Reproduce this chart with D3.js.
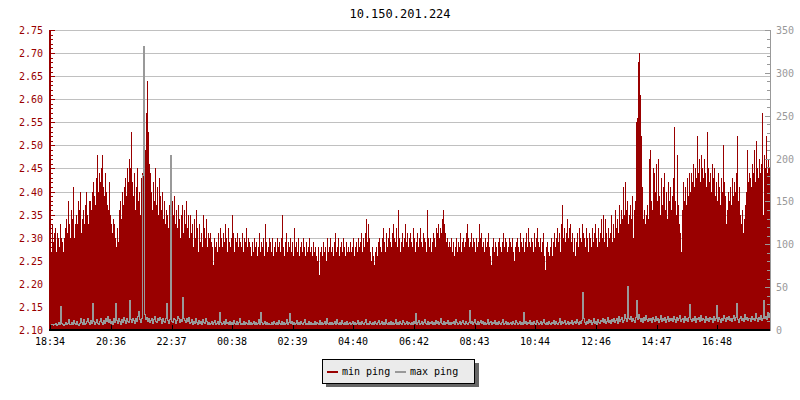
<!DOCTYPE html>
<html><head><meta charset="utf-8">
<script src="https://cdn.jsdelivr.net/npm/d3@7"></script>
<style>
html,body{margin:0;padding:0;background:#fff;}
svg{display:block;}
text{font-family:"DejaVu Sans Mono",monospace;}
</style></head>
<body><svg id="c" width="800" height="400"></svg>
<script>
const title = "10.150.201.224";
const startTime = "18:34";
const stepMinutes = 2;
const xTickLabels = ["18:34","20:36","22:37","00:38","02:39","04:40","06:42","08:43","10:44","12:46","14:47","16:48"];
const leftTicks = [2.10,2.15,2.20,2.25,2.30,2.35,2.40,2.45,2.50,2.55,2.60,2.65,2.70,2.75];
const rightTicks = [0,50,100,150,200,250,300,350];
const seriesNames = ["min ping","max ping"];

const minPing = [
2.29,2.27,2.33,2.29,2.31,2.32,2.27,2.31,2.30,2.28,2.33,2.30,2.29,2.27,2.30,2.32,2.34,2.31,2.38,2.33,
2.30,2.36,2.34,2.41,2.30,2.33,2.35,2.33,2.38,2.36,2.40,2.31,2.34,2.36,2.33,2.37,2.40,2.35,2.33,2.38,
2.38,2.36,2.40,2.42,2.39,2.37,2.43,2.48,2.40,2.44,2.42,2.45,2.48,2.41,2.39,2.44,2.40,2.37,2.36,2.42,
2.35,2.33,2.31,2.34,2.33,2.30,2.28,2.32,2.29,2.36,2.38,2.34,2.40,2.37,2.41,2.43,2.39,2.45,2.42,2.47,
2.45,2.53,2.42,2.39,2.44,2.36,2.41,2.45,2.38,2.40,2.35,2.43,2.44,2.47,2.45,2.49,2.57,2.64,2.53,2.46,
2.44,2.40,2.36,2.42,2.38,2.45,2.37,2.41,2.35,2.43,2.39,2.36,2.40,2.34,2.38,2.33,2.36,2.35,2.32,2.37,
2.34,2.31,2.38,2.35,2.39,2.33,2.36,2.32,2.37,2.34,2.30,2.35,2.37,2.31,2.36,2.33,2.38,2.32,2.35,2.30,
2.35,2.31,2.33,2.28,2.34,2.30,2.36,2.32,2.27,2.33,2.29,2.31,2.28,2.35,2.32,2.30,2.34,2.28,2.31,2.30,
2.31,2.29,2.28,2.24,2.30,2.28,2.29,2.27,2.31,2.28,2.32,2.30,2.28,2.31,2.29,2.33,2.30,2.27,2.32,2.29,
2.28,2.30,2.35,2.31,2.27,2.30,2.29,2.31,2.28,2.30,2.29,2.28,2.31,2.27,2.30,2.29,2.32,2.28,2.30,2.29,
2.28,2.26,2.29,2.27,2.30,2.28,2.29,2.26,2.28,2.31,2.27,2.29,2.28,2.30,2.26,2.33,2.29,2.27,2.28,2.30,
2.29,2.27,2.30,2.26,2.28,2.29,2.27,2.30,2.28,2.29,2.27,2.30,2.35,2.28,2.26,2.29,2.31,2.27,2.29,2.28,
2.30,2.27,2.29,2.26,2.32,2.28,2.29,2.27,2.30,2.26,2.28,2.29,2.27,2.30,2.28,2.26,2.29,2.27,2.28,2.30,
2.27,2.28,2.26,2.29,2.27,2.28,2.26,2.25,2.28,2.22,2.27,2.28,2.26,2.29,2.27,2.28,2.25,2.30,2.27,2.28,
2.30,2.27,2.28,2.26,2.29,2.31,2.27,2.28,2.30,2.26,2.28,2.29,2.27,2.30,2.28,2.26,2.29,2.27,2.28,2.27,
2.29,2.27,2.28,2.30,2.26,2.28,2.29,2.27,2.30,2.28,2.29,2.31,2.27,2.30,2.28,2.31,2.34,2.29,2.33,2.30,
2.27,2.25,2.28,2.26,2.24,2.27,2.28,2.26,2.29,2.30,2.28,2.27,2.30,2.32,2.29,2.27,2.31,2.28,2.30,2.32,
2.29,2.28,2.31,2.33,2.30,2.29,2.32,2.28,2.36,2.30,2.27,2.29,2.31,2.28,2.30,2.33,2.29,2.31,2.28,2.30,
2.31,2.29,2.28,2.32,2.30,2.27,2.29,2.31,2.28,2.30,2.32,2.29,2.28,2.31,2.30,2.29,2.27,2.36,2.30,2.28,
2.30,2.27,2.29,2.31,2.30,2.28,2.32,2.31,2.33,2.30,2.32,2.31,2.34,2.36,2.33,2.31,2.29,2.30,2.28,2.29,
2.28,2.30,2.27,2.29,2.26,2.28,2.30,2.27,2.29,2.28,2.31,2.27,2.29,2.30,2.28,2.29,2.31,2.33,2.30,2.28,
2.29,2.31,2.28,2.30,2.29,2.27,2.30,2.28,2.29,2.33,2.30,2.31,2.28,2.29,2.27,2.30,2.28,2.29,2.31,2.28,
2.26,2.24,2.28,2.30,2.27,2.29,2.28,2.26,2.29,2.30,2.28,2.27,2.29,2.31,2.28,2.30,2.29,2.27,2.28,2.30,
2.29,2.28,2.30,2.27,2.25,2.28,2.29,2.30,2.28,2.27,2.31,2.29,2.28,2.30,2.27,2.29,2.31,2.28,2.32,2.29,
2.28,2.30,2.29,2.27,2.31,2.28,2.30,2.32,2.29,2.28,2.30,2.27,2.29,2.31,2.26,2.23,2.28,2.29,2.27,2.26,
2.28,2.30,2.26,2.29,2.31,2.28,2.30,2.32,2.29,2.31,2.27,2.33,2.37,2.30,2.32,2.29,2.31,2.34,2.30,2.32,
2.33,2.29,2.31,2.27,2.30,2.26,2.29,2.31,2.28,2.32,2.30,2.29,2.33,2.31,2.30,2.28,2.32,2.30,2.27,2.31,
2.30,2.28,2.32,2.29,2.31,2.33,2.30,2.28,2.32,2.29,2.31,2.34,2.30,2.35,2.29,2.34,2.31,2.28,2.32,2.30,
2.31,2.35,2.29,2.33,2.30,2.36,2.32,2.34,2.31,2.37,2.33,2.36,2.34,2.41,2.35,2.42,2.36,2.38,2.33,2.35,
2.37,2.34,2.39,2.30,2.36,2.38,2.55,2.56,2.68,2.70,2.61,2.52,2.41,2.34,2.36,2.33,2.35,2.37,2.34,2.47,
2.49,2.38,2.36,2.45,2.44,2.40,2.46,2.38,2.47,2.39,2.35,2.43,2.37,2.41,2.44,2.36,2.40,2.34,2.42,2.38,
2.41,2.36,2.39,2.43,2.54,2.38,2.35,2.48,2.37,2.33,2.31,2.27,2.36,2.42,2.38,2.41,2.37,2.43,2.39,2.44,
2.40,2.44,2.42,2.46,2.41,2.45,2.43,2.52,2.44,2.47,2.42,2.48,2.45,2.43,2.47,2.44,2.41,2.53,2.45,2.42,
2.44,2.40,2.46,2.43,2.45,2.39,2.42,2.38,2.44,2.41,2.37,2.43,2.40,2.50,2.42,2.39,2.33,2.36,2.40,2.38,
2.41,2.37,2.43,2.39,2.42,2.40,2.44,2.52,2.38,2.41,2.35,2.33,2.36,2.31,2.34,2.37,2.40,2.49,2.42,2.44,
2.43,2.41,2.46,2.44,2.49,2.42,2.51,2.45,2.43,2.47,2.44,2.46,2.57,2.35,2.48,2.45,2.52,2.44,2.47,2.45
];

const maxPing = [
5,6,5,7,6,8,5,6,9,7,27,8,6,5,7,9,6,8,12,7,
6,9,7,11,8,6,10,7,5,8,13,9,7,12,6,8,10,14,9,7,
11,8,31,10,7,9,12,8,6,10,14,9,7,11,8,13,10,16,9,12,
8,10,7,13,9,31,11,8,14,10,7,12,9,15,11,8,13,10,9,35,
12,9,14,11,8,13,10,16,22,12,9,14,180,331,18,12,15,10,13,9,
11,14,8,12,16,10,9,13,11,15,12,8,14,10,9,13,31,11,8,12,
204,10,9,14,12,8,11,16,13,9,12,10,38,14,11,9,13,10,15,8,
9,12,7,10,8,13,9,6,11,8,10,7,12,9,8,14,10,7,9,6,
8,10,7,9,11,6,8,10,7,21,9,6,8,10,7,12,8,9,6,10,
7,9,6,11,8,7,10,6,9,13,7,8,6,10,7,9,8,6,11,7,
9,6,8,10,7,9,6,8,12,7,21,9,6,8,10,7,9,6,8,7,
6,9,7,10,8,6,9,7,11,8,6,10,7,9,6,8,12,7,9,19,
8,10,7,9,6,8,11,7,9,6,10,8,7,9,12,6,8,7,10,6,
9,7,8,6,10,7,9,8,6,11,7,9,6,8,10,7,13,8,6,9,
7,9,6,8,10,7,12,8,6,9,7,11,8,6,9,7,10,6,8,9,
6,8,10,7,9,6,8,11,7,9,6,10,8,7,9,12,7,8,6,10,
8,6,9,7,10,8,6,9,11,7,8,10,6,9,7,12,8,6,9,7,
10,7,9,6,8,12,7,9,6,10,8,7,11,9,6,8,10,7,9,8,
7,9,6,10,8,19,7,9,11,6,8,10,7,9,12,8,6,10,7,9,
8,10,7,9,6,11,8,10,7,9,13,8,6,10,7,9,8,11,7,9,
6,9,8,10,7,12,9,6,8,10,7,9,11,8,6,10,8,7,9,23,
8,10,7,9,12,8,6,10,7,9,11,8,10,7,9,6,8,12,7,9,
10,7,9,8,11,6,9,7,10,8,6,9,12,7,8,10,6,9,7,8,
9,7,10,8,6,11,9,7,8,10,7,9,6,21,8,10,7,9,8,11,
7,9,6,10,8,7,11,9,6,8,10,7,9,12,8,6,9,7,10,8,
6,9,8,11,7,10,8,6,9,13,7,10,8,9,11,7,8,10,6,9,
8,11,7,9,10,8,12,9,7,10,8,11,44,14,9,7,10,8,12,9,
11,7,9,13,8,10,7,12,9,8,11,10,14,9,12,8,10,15,9,11,
8,12,10,14,9,11,13,8,16,10,12,15,9,11,18,13,10,51,14,12,
16,10,13,11,9,15,35,12,18,14,10,13,9,15,11,17,12,10,14,11,
13,9,15,12,10,16,11,14,9,12,17,10,13,11,15,9,12,16,10,13,
11,14,10,16,12,9,15,11,13,17,10,12,14,9,16,11,13,10,15,30,
12,10,14,11,16,9,13,12,15,10,17,11,14,12,9,16,11,13,10,15,
12,14,9,16,11,13,29,10,15,12,9,14,11,17,13,10,15,12,16,11,
14,10,13,17,11,15,31,12,9,14,16,11,13,10,18,12,15,11,14,13,
10,16,12,14,11,19,13,10,15,12,17,11,14,35,13,16,12,20,15,18
];

const RED = "#990000", GRAY = "#999999", GRID = "#c0c0c0";
const L = 50, R = 770, T = 30, B = 330;
const svg = d3.select("#c");

const [sh, sm] = startTime.split(":").map(Number);
const t0 = new Date(2000, 0, 1, sh, sm);
const MS = 60000;
const times = minPing.map((_, i) => new Date(t0.getTime() + i * stepMinutes * MS));
const tEnd = new Date(t0.getTime() + minPing.length * stepMinutes * MS);

const x = d3.scaleTime().domain([t0, tEnd]).range([L, R]);
const yL = d3.scaleLinear().domain([2.10, 2.75]).range([B, T]);
const yR = d3.scaleLinear().domain([0, 350]).range([B, T]);

// title
svg.append("text").attr("x", 400).attr("y", 18).attr("text-anchor", "middle")
  .attr("font-size", 12).attr("fill", "#000").text(title);

// grid
svg.append("g").selectAll("line").data(leftTicks.slice(1)).join("line")
  .attr("x1", L).attr("x2", R)
  .attr("y1", d => Math.round(yL(d)) + 0.5).attr("y2", d => Math.round(yL(d)) + 0.5)
  .attr("stroke", GRID).attr("stroke-width", 1);

// red bars
svg.append("g").attr("shape-rendering", "crispEdges").selectAll("rect").data(minPing).join("rect")
  .attr("x", (d, i) => x(times[i]))
  .attr("width", (d, i) => x(i + 1 < times.length ? times[i + 1] : tEnd) - x(times[i]))
  .attr("y", d => yL(d))
  .attr("height", d => B - yL(d))
  .attr("fill", RED);

// gray step line
const pts = maxPing.map((v, i) => [x(times[i]), yR(v)]);
pts.push([x(tEnd), yR(maxPing[maxPing.length - 1])]);
svg.append("path").attr("d", d3.line().curve(d3.curveStepAfter)(pts))
  .attr("fill", "none").attr("stroke", GRAY).attr("stroke-width", 1)
  .attr("shape-rendering", "crispEdges");

// left axis
const gl = svg.append("g").attr("shape-rendering", "crispEdges");
const minorL = d3.range(0, 66).map(k => 2.10 + k * 0.01);
gl.selectAll("line.mn").data(minorL).join("line")
  .attr("x1", L).attr("x2", L + 3)
  .attr("y1", d => Math.round(yL(d)) + 0.5).attr("y2", d => Math.round(yL(d)) + 0.5)
  .attr("stroke", RED);
gl.selectAll("line.mj").data(leftTicks).join("line")
  .attr("x1", L).attr("x2", L + 5)
  .attr("y1", d => Math.round(yL(d)) + 0.5).attr("y2", d => Math.round(yL(d)) + 0.5)
  .attr("stroke", RED);
gl.append("rect").attr("x", L - 1).attr("y", T).attr("width", 2).attr("height", B - T + 1).attr("fill", RED);
gl.selectAll("text").data(leftTicks).join("text")
  .attr("x", L - 7).attr("y", d => yL(d) + 4).attr("text-anchor", "end")
  .attr("font-size", 10).attr("fill", RED).text(d => d.toFixed(2));

// right axis
const gr = svg.append("g").attr("shape-rendering", "crispEdges");
const minorR = d3.range(0, 36).map(k => k * 10);
gr.selectAll("line.mn").data(minorR).join("line")
  .attr("x1", R - 3).attr("x2", R)
  .attr("y1", d => Math.round(yR(d)) + 0.5).attr("y2", d => Math.round(yR(d)) + 0.5)
  .attr("stroke", GRAY);
gr.selectAll("line.mj").data(rightTicks).join("line")
  .attr("x1", R - 5).attr("x2", R + 1)
  .attr("y1", d => Math.round(yR(d)) + 0.5).attr("y2", d => Math.round(yR(d)) + 0.5)
  .attr("stroke", GRAY);
gr.append("line").attr("x1", R + 0.5).attr("x2", R + 0.5).attr("y1", T).attr("y2", B + 1).attr("stroke", GRAY);
gr.selectAll("text").data(rightTicks).join("text")
  .attr("x", R + 6).attr("y", d => yR(d) + 4).attr("text-anchor", "start")
  .attr("font-size", 10).attr("fill", GRAY).text(d => d);

// x axis
const tickDates = xTickLabels.map(s => {
  const [h, m] = s.split(":").map(Number);
  let mins = h * 60 + m - (sh * 60 + sm);
  if (mins < 0) mins += 1440;
  return new Date(t0.getTime() + mins * MS);
});
const gx = svg.append("g").attr("shape-rendering", "crispEdges");
gx.append("rect").attr("x", L - 1).attr("y", B - 1).attr("width", R - L + 1).attr("height", 2).attr("fill", "#000");
gx.selectAll("line").data(tickDates).join("line")
  .attr("x1", d => Math.round(x(d)) + 0.5).attr("x2", d => Math.round(x(d)) + 0.5)
  .attr("y1", B - 5).attr("y2", B).attr("stroke", "#000");
gx.selectAll("text").data(xTickLabels).join("text")
  .attr("x", (d, i) => x(tickDates[i])).attr("y", 345).attr("text-anchor", "middle")
  .attr("font-size", 10).attr("fill", "#000").text(d => d);

// legend
const lg = svg.append("g").attr("shape-rendering", "crispEdges");
lg.append("rect").attr("x", 326).attr("y", 363).attr("width", 153).attr("height", 24).attr("fill", "#666");
lg.append("rect").attr("x", 322.5).attr("y", 359.5).attr("width", 152).attr("height", 24)
  .attr("fill", "#ebebeb").attr("stroke", "#000").attr("stroke-width", 1);
const legendColors = [RED, GRAY];
const legendX = [327, 395];
seriesNames.forEach((nm, i) => {
  lg.append("rect").attr("x", legendX[i]).attr("y", 371).attr("width", 11).attr("height", 2).attr("fill", legendColors[i]);
  svg.append("text").attr("x", legendX[i] + 15).attr("y", 375).attr("font-size", 10).attr("fill", "#000").text(nm);
});
</script></body></html>
